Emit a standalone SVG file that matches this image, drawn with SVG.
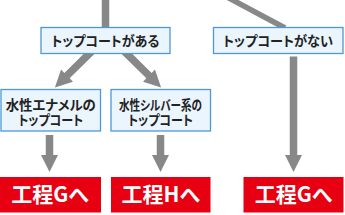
<svg xmlns="http://www.w3.org/2000/svg" width="345" height="215" viewBox="0 0 345 215">
<style>
.box{fill:#EAF5FD;stroke:#4D98D6;stroke-width:1.3}
.red{fill:#E60012}
.lbl{font-family:"Noto Sans CJK JP","Noto Sans",sans-serif;font-weight:bold;fill:#222;text-anchor:middle;font-size:13.5px;font-feature-settings:"palt"}
.big{font-family:"Noto Sans CJK JP","Noto Sans",sans-serif;font-weight:bold;fill:#fff;text-anchor:middle;font-size:21px;font-feature-settings:"palt"}
.arr{fill:#888888}
.ln{stroke:#888888;fill:none}
</style>
<g id="connectors">
<line class="ln" x1="105.5" y1="0" x2="105.5" y2="30" stroke-width="7.5"/>
<line class="ln" x1="227" y1="-3" x2="285" y2="28" stroke-width="5.5"/>
<path class="arr" transform="translate(93,50) rotate(45.4)" d="M-3.75,0H3.75V36.5H8.5L0,53.5L-8.5,36.5H-3.75Z"/>
<path class="arr" transform="translate(123,50) rotate(-45.4)" d="M-3.75,0H3.75V36.5H8.5L0,53.5L-8.5,36.5H-3.75Z"/>
<path class="arr" transform="translate(49.5,135)" d="M-3.75,0H3.75V20H8.5L0,37L-8.5,20H-3.75Z"/>
<path class="arr" transform="translate(160.5,135)" d="M-3.75,0H3.75V20H8.5L0,37L-8.5,20H-3.75Z"/>
<path class="arr" transform="translate(293.5,56.5)" d="M-3.75,0H3.75V98.5H8.5L0,115.5L-8.5,98.5H-3.75Z"/>
</g>
<g id="n-aru">
<rect class="box" x="41" y="27.5" width="129" height="26"/>
<text class="lbl" x="105.5" y="46" textLength="108" lengthAdjust="spacingAndGlyphs">トップコートがある</text>
</g>
<g id="n-nai">
<rect class="box" x="213.5" y="27.5" width="129.5" height="26"/>
<text class="lbl" x="278" y="46" textLength="110" lengthAdjust="spacingAndGlyphs">トップコートがない</text>
</g>
<g id="n-enamel">
<rect class="box" x="1" y="89.5" width="99.5" height="41.5"/>
<text class="lbl" x="50.75" y="109.5" textLength="90" lengthAdjust="spacingAndGlyphs">水性エナメルの</text>
<text class="lbl" x="50.75" y="125" textLength="65" lengthAdjust="spacingAndGlyphs">トップコート</text>
</g>
<g id="n-silver">
<rect class="box" x="111" y="89.5" width="99.5" height="41.5"/>
<text class="lbl" x="160.5" y="109.5" textLength="83" lengthAdjust="spacingAndGlyphs">水性シルバー系の</text>
<text class="lbl" x="160.5" y="125" textLength="65" lengthAdjust="spacingAndGlyphs">トップコート</text>
</g>
<g id="n-g1">
<rect class="red" x="0" y="177" width="101" height="35.5"/>
<text class="big" x="50" y="202">工程Gへ</text>
</g>
<g id="n-h">
<rect class="red" x="111" y="177" width="99.5" height="35.5"/>
<text class="big" x="160.75" y="202">工程Hへ</text>
</g>
<g id="n-g2">
<rect class="red" x="243.5" y="177" width="100" height="35.5"/>
<text class="big" x="293.5" y="202">工程Gへ</text>
</g>
</svg>
